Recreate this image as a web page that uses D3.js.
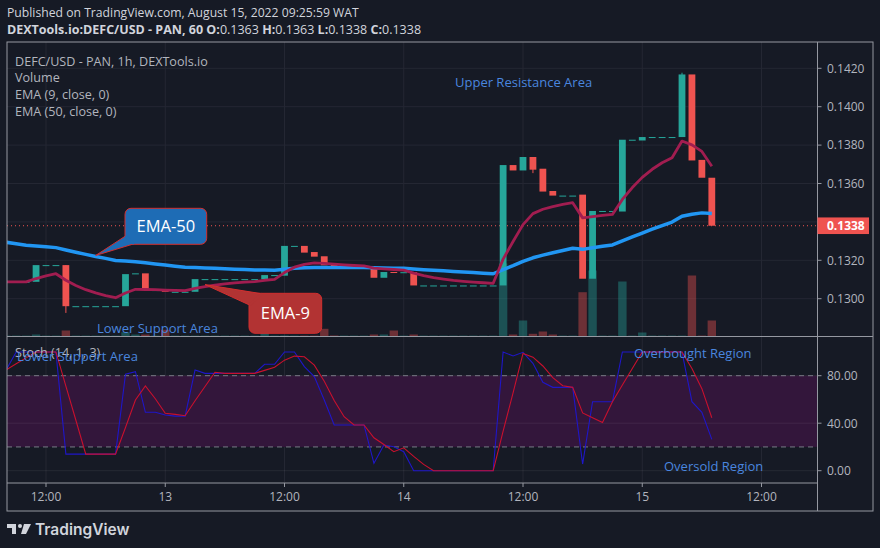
<!DOCTYPE html>
<html>
<head>
<meta charset="utf-8">
<script src="https://cdn.jsdelivr.net/npm/d3@7"></script>
<style>
  html, body { margin: 0; padding: 0; background: #161a25; }
  svg { display: block; font-family: "Open Sans", "DejaVu Sans", sans-serif; }
</style>
</head>
<body>
<svg id="chart" width="880" height="548"></svg>
<script>
// hourly bars, first one is Aug 12 08:00
var firstBar = Date.UTC(2022, 7, 12, 8);

var opens = [
  0.13088, 0.13088, 0.13088, 0.13088, 0.13175, 0.13175, 0.13175, 0.12961, 0.12961, 0.12961,
  0.12961, 0.12961, 0.12961, 0.13128, 0.13132, 0.13045, 0.13045, 0.13036, 0.13036, 0.13036,
  0.13102, 0.13102, 0.13102, 0.13102, 0.13102, 0.13102, 0.13101, 0.13123, 0.13120, 0.13275,
  0.13275, 0.13243, 0.13221, 0.13177, 0.13163, 0.13163, 0.13163, 0.13163, 0.13109, 0.13139,
  0.13138, 0.13138, 0.13069, 0.13069, 0.13069, 0.13069, 0.13069, 0.13069, 0.13069, 0.13069,
  0.13069, 0.13696, 0.13668, 0.13738, 0.13677, 0.13561, 0.13537, 0.13537, 0.13542, 0.13104,
  0.13457, 0.13457, 0.13454, 0.13828, 0.13824, 0.13842, 0.13842, 0.13842, 0.13842, 0.14168,
  0.13723, 0.13630
];
var closes = [
  0.13088, 0.13088, 0.13088, 0.13175, 0.13175, 0.13175, 0.12961, 0.12961, 0.12961, 0.12961,
  0.12961, 0.12961, 0.13128, 0.13132, 0.13045, 0.13045, 0.13036, 0.13036, 0.13036, 0.13102,
  0.13102, 0.13102, 0.13102, 0.13102, 0.13102, 0.13102, 0.13123, 0.13123, 0.13275, 0.13275,
  0.13240, 0.13219, 0.13174, 0.13163, 0.13163, 0.13163, 0.13163, 0.13109, 0.13139, 0.13138,
  0.13138, 0.13069, 0.13069, 0.13069, 0.13069, 0.13069, 0.13069, 0.13069, 0.13069, 0.13069,
  0.13696, 0.13668, 0.13738, 0.13672, 0.13558, 0.13537, 0.13537, 0.13537, 0.13104, 0.13457,
  0.13457, 0.13457, 0.13828, 0.13828, 0.13842, 0.13842, 0.13842, 0.13842, 0.14168, 0.13720,
  0.13630, 0.13380
];
// bars that have wicks: [bar index, high, low]
var wicks = [[6, 0.13175, 0.12926], [33, 0.13184, 0.13163], [53, 0.13738, 0.13654], [68, 0.14177, 0.13842]];

var volumes = [
  0, 0, 0, 200, 0, 0, 600, 0, 0, 0,
  0, 0, 430, 200, 200, 0, 670, 0, 0, 0,
  0, 0, 0, 0, 0, 0, 670, 0, 100, 0,
  0, 0, 770, 100, 0, 0, 0, 200, 200, 600,
  0, 200, 0, 0, 0, 0, 0, 0, 0, 0,
  7300, 200, 1600, 270, 500, 200, 0, 0, 4430, 6600,
  0, 0, 5500, 0, 400, 0, 0, 0, 0, 6100,
  0, 1600
];

var ema9 = [
  0.13088, 0.13088, 0.13088, 0.13105, 0.13119, 0.13130, 0.13096, 0.13069, 0.13047, 0.13030,
  0.13016, 0.13005, 0.13030, 0.13049, 0.13048, 0.13047, 0.13045, 0.13043, 0.13042, 0.13054,
  0.13063, 0.13071, 0.13077, 0.13082, 0.13086, 0.13089, 0.13096, 0.13101, 0.13136, 0.13164,
  0.13179, 0.13187, 0.13184, 0.13180, 0.13176, 0.13173, 0.13171, 0.13159, 0.13155, 0.13152,
  0.13149, 0.13133, 0.13120, 0.13110, 0.13102, 0.13095, 0.13090, 0.13086, 0.13083, 0.13080,
  0.13206, 0.13298, 0.13386, 0.13443, 0.13466, 0.13480, 0.13491, 0.13500, 0.13421, 0.13428,
  0.13434, 0.13439, 0.13517, 0.13579, 0.13632, 0.13674, 0.13708, 0.13734, 0.13821, 0.13801,
  0.13767, 0.13690
];
var ema50 = [
  0.13294, 0.13286, 0.13278, 0.13274, 0.13270, 0.13266, 0.13254, 0.13242, 0.13231, 0.13220,
  0.13210, 0.13199, 0.13196, 0.13193, 0.13187, 0.13181, 0.13175, 0.13169, 0.13164, 0.13162,
  0.13160, 0.13158, 0.13156, 0.13154, 0.13152, 0.13150, 0.13149, 0.13148, 0.13153, 0.13158,
  0.13161, 0.13163, 0.13163, 0.13163, 0.13163, 0.13163, 0.13163, 0.13161, 0.13160, 0.13159,
  0.13158, 0.13155, 0.13151, 0.13148, 0.13145, 0.13142, 0.13139, 0.13136, 0.13133, 0.13130,
  0.13152, 0.13172, 0.13194, 0.13213, 0.13227, 0.13239, 0.13251, 0.13263, 0.13257, 0.13265,
  0.13273, 0.13280, 0.13301, 0.13322, 0.13342, 0.13362, 0.13381, 0.13399, 0.13429, 0.13440,
  0.13447, 0.13444
];

var stochK = [
  85, 100, 100, 100, 100, 100, 14, 14, 14, 14,
  14, 14, 81.2, 83.4, 49.2, 49.2, 46.9, 46, 46, 84.8,
  82, 82, 82, 82, 82, 82, 89.6, 89.6, 100, 100,
  87.6, 79.2, 59.5, 38.5, 38.5, 38.5, 38.5, 6.2, 21.6, 20.2,
  16, 0, 0, 0, 0, 0, 0, 0, 0, 0,
  100, 96.6, 99.7, 90.4, 74.4, 70.2, 70.2, 70.2, 5.6, 58.1,
  58.1, 58.1, 100, 100, 100, 100, 100, 100, 100, 58.1,
  49.2, 26.4
];
var stochD = [
  85, 90, 95, 100, 100, 100, 71.3, 42.7, 14, 14,
  14, 14, 36.4, 59.5, 71.3, 60.6, 48.4, 47.4, 46.3, 58.9,
  70.9, 82.9, 82, 82, 82, 82, 84.5, 87.1, 93.1, 96.5,
  95.9, 88.9, 75.4, 59.1, 45.5, 38.5, 38.5, 27.7, 22.1, 16,
  19.3, 12.1, 5.3, 0, 0, 0, 0, 0, 0, 0,
  33.3, 65.5, 98.8, 95.6, 88.2, 78.3, 71.6, 70.2, 48.7, 44.6,
  40.6, 58.1, 72.1, 86, 100, 100, 100, 100, 100, 86,
  69.1, 44.6
];

var priceTicks = [0.1300, 0.1320, 0.1340, 0.1360, 0.1380, 0.1400, 0.1420];
var priceLabelTicks = [0.1300, 0.1320, 0.1360, 0.1380, 0.1400, 0.1420];
var stochTicks = [0, 40, 80];
var timeTicks = [
  Date.UTC(2022, 7, 12, 12), Date.UTC(2022, 7, 13), Date.UTC(2022, 7, 13, 12),
  Date.UTC(2022, 7, 14), Date.UTC(2022, 7, 14, 12), Date.UTC(2022, 7, 15), Date.UTC(2022, 7, 15, 12)
];
var timeLabels = ["12:00", "13", "12:00", "14", "12:00", "15", "12:00"];
var lastPrice = 0.1338;

var bars = opens.map(function(o, i) {
  var c = closes[i];
  var b = {t: new Date(firstBar + i * 3600000), o: o, c: c,
           h: Math.max(o, c), l: Math.min(o, c), v: volumes[i],
           e9: ema9[i], e50: ema50[i], k: stochK[i], d: stochD[i]};
  return b;
});
wicks.forEach(function(w) { bars[w[0]].h = w[1]; bars[w[0]].l = w[2]; });

var L = 7, R = 817.5, FR = 873, T = 42, MB = 336.5, SB = 483, B = 511;
var up = "#26a69a", down = "#ef5350", grid = "#242733", axisTxt = "#b2b5be", frame = "#9598a1";

var x = d3.scaleUtc()
  .domain([new Date(timeTicks[0]), new Date(timeTicks[6])])
  .range([46, 761.5]);
var y = d3.scaleLinear().domain([0.1300, 0.1420]).range([298.7, 68.3]);
var ys = d3.scaleLinear().domain([0, 100]).range([470.7, 351.95]);
var yv = d3.scaleLinear().domain([0, 7300]).range([MB, 263.5]);

var svg = d3.select("#chart");
svg.append("rect").attr("width", 880).attr("height", 548).attr("fill", "#161a25");

var defs = svg.append("defs");
defs.append("clipPath").attr("id", "mainClip").append("rect")
  .attr("x", L).attr("y", T).attr("width", R - L).attr("height", MB - T);
defs.append("clipPath").attr("id", "stochClip").append("rect")
  .attr("x", L).attr("y", MB).attr("width", R - L).attr("height", SB - MB);

// header
var head = svg.append("g").attr("fill", "#d1d4dc");
head.append("text").attr("x", 7).attr("y", 17).attr("font-size", 12.2)
  .text("Published on TradingView.com, August 15, 2022 09:25:59 WAT");
var h2 = head.append("text").attr("x", 7).attr("y", 34).attr("font-size", 12.5);
h2.append("tspan").attr("font-weight", "bold").text("DEXTools.io:DEFC/USD - PAN, 60 ");
[["O:", "0.1363 "], ["H:", "0.1363 "], ["L:", "0.1338 "], ["C:", "0.1338"]].forEach(function(p) {
  h2.append("tspan").attr("font-weight", "bold").text(p[0]);
  h2.append("tspan").text(p[1]);
});

// grid
var g = svg.append("g");
g.selectAll(".hg").data(priceTicks).enter().append("line")
  .attr("x1", L).attr("x2", R).attr("y1", d => y(d)).attr("y2", d => y(d))
  .attr("stroke", grid);
g.selectAll(".vg").data(timeTicks).enter().append("line")
  .attr("x1", d => x(d)).attr("x2", d => x(d)).attr("y1", T).attr("y2", SB)
  .attr("stroke", grid);

// main pane
var main = svg.append("g").attr("clip-path", "url(#mainClip)");
var bw = 6.8;
main.selectAll(".vol").data(bars).enter().append("rect")
  .attr("x", d => x(d.t) - 4.2).attr("width", 8.4)
  .attr("y", d => Math.min(yv(d.v), MB - 1))
  .attr("height", d => Math.max(MB - yv(d.v), 1))
  .attr("fill", d => d.c >= d.o ? up : down)
  .attr("opacity", d => d.v > 0 ? 0.4 : 0.3);

main.append("line").attr("x1", L).attr("x2", R)
  .attr("y1", y(lastPrice)).attr("y2", y(lastPrice))
  .attr("stroke", down).attr("stroke-dasharray", "1,3");

main.selectAll(".wick").data(bars.filter(d => d.h > Math.max(d.o, d.c) || d.l < Math.min(d.o, d.c)))
  .enter().append("line")
  .attr("x1", d => x(d.t)).attr("x2", d => x(d.t))
  .attr("y1", d => y(d.h)).attr("y2", d => y(d.l))
  .attr("stroke", d => d.c >= d.o ? up : down);
main.selectAll(".body").data(bars).enter().append("rect")
  .attr("x", d => x(d.t) - bw / 2).attr("width", bw)
  .attr("y", d => y(Math.max(d.o, d.c)))
  .attr("height", d => Math.max(y(Math.min(d.o, d.c)) - y(Math.max(d.o, d.c)), 1))
  .attr("fill", d => d.c >= d.o ? up : down);

var l9 = d3.line().x(d => x(d.t)).y(d => y(d.e9));
var l50 = d3.line().x(d => x(d.t)).y(d => y(d.e50));
main.append("path").attr("d", l50(bars)).attr("fill", "none")
  .attr("stroke", "#2196f3").attr("stroke-width", 3.5).attr("stroke-linejoin", "round");
main.append("path").attr("d", l9(bars)).attr("fill", "none")
  .attr("stroke", "#a11d50").attr("stroke-width", 2.8).attr("stroke-linejoin", "round");

// stochastic pane
var st = svg.append("g").attr("clip-path", "url(#stochClip)");
st.append("rect").attr("x", L).attr("width", R - L)
  .attr("y", ys(80)).attr("height", ys(20) - ys(80))
  .attr("fill", "#33163b");
st.selectAll(".sg").data(stochTicks).enter().append("line")
  .attr("x1", L).attr("x2", R).attr("y1", d => ys(d)).attr("y2", d => ys(d))
  .attr("stroke", "#ffffff").attr("stroke-opacity", 0.07);
st.selectAll(".band").data([80, 20]).enter().append("line")
  .attr("x1", L).attr("x2", R).attr("y1", d => ys(d)).attr("y2", d => ys(d))
  .attr("stroke", "#787b86").attr("stroke-dasharray", "5,4");
var lk = d3.line().x(d => x(d.t)).y(d => ys(d.k));
var ld = d3.line().x(d => x(d.t)).y(d => ys(d.d));
st.append("path").attr("d", lk(bars)).attr("fill", "none").attr("stroke", "#1f16c8").attr("stroke-width", 1.1);
st.append("path").attr("d", ld(bars)).attr("fill", "none").attr("stroke", "#c8102e").attr("stroke-width", 1.1);

// frame
var f = svg.append("g").attr("stroke", frame).attr("fill", "none");
f.append("rect").attr("x", L).attr("y", T).attr("width", FR - L).attr("height", B - T);
f.append("line").attr("x1", R).attr("x2", R).attr("y1", T).attr("y2", B);
f.append("line").attr("x1", L).attr("x2", FR).attr("y1", MB).attr("y2", MB);
f.append("line").attr("x1", L).attr("x2", R).attr("y1", SB).attr("y2", SB);

// price axis
var ax = svg.append("g").attr("font-size", 12).attr("fill", axisTxt);
ax.selectAll(".pt").data(priceLabelTicks).enter().append("line")
  .attr("x1", R).attr("x2", R + 4).attr("y1", d => y(d)).attr("y2", d => y(d)).attr("stroke", frame);
ax.selectAll(".pl").data(priceLabelTicks).enter().append("text")
  .attr("x", 827).attr("y", d => y(d) + 4.3).text(d3.format(".4f"));
ax.append("rect").attr("x", R).attr("y", y(lastPrice) - 8.3).attr("width", 51.5).attr("height", 16.6)
  .attr("fill", down);
ax.append("text").attr("x", 827).attr("y", y(lastPrice) + 4.3).attr("fill", "#ffffff")
  .attr("font-weight", "bold").text(d3.format(".4f")(lastPrice));
ax.selectAll(".st").data(stochTicks).enter().append("line")
  .attr("x1", R).attr("x2", R + 4).attr("y1", d => ys(d)).attr("y2", d => ys(d)).attr("stroke", frame);
ax.selectAll(".sl").data(stochTicks).enter().append("text")
  .attr("x", 827).attr("y", d => ys(d) + 4.3).text(d3.format(".2f"));

// time axis
ax.selectAll(".tt").data(timeTicks).enter().append("line")
  .attr("x1", d => x(d)).attr("x2", d => x(d)).attr("y1", SB).attr("y2", SB + 4).attr("stroke", frame);
ax.selectAll(".tl").data(timeTicks).enter().append("text")
  .attr("x", d => x(d)).attr("y", 500.5).attr("text-anchor", "middle")
  .text((d, i) => timeLabels[i]);

// legends
var lg = svg.append("g").attr("font-size", 12.6).attr("fill", axisTxt);
["DEFC/USD - PAN, 1h, DEXTools.io", "Volume", "EMA (9, close, 0)", "EMA (50, close, 0)"].forEach(function(s, i) {
  lg.append("text").attr("x", 15).attr("y", 65.5 + i * 16.7).text(s);
});
lg.append("text").attr("x", 15).attr("y", 356.5).text("Stoch (14, 1, 3)");

// text annotations
var an = svg.append("g").attr("font-size", 13).attr("fill", "#4a86df");
an.append("text").attr("x", 455).attr("y", 86.5).text("Upper Resistance Area");
an.append("text").attr("x", 97).attr("y", 332.5).text("Lower Support Area");
an.append("text").attr("x", 17).attr("y", 360.5).text("Lower Support Area");
an.append("text").attr("x", 634).attr("y", 357.5).text("Overbought Region");
an.append("text").attr("x", 664).attr("y", 470.5).text("Oversold Region");

// callouts
function callout(tip, box, p1, p2, fill, label) {
  var c = svg.append("g");
  c.append("rect").attr("x", box[0]).attr("y", box[1]).attr("width", box[2]).attr("height", box[3])
    .attr("rx", 6).attr("fill", fill).attr("stroke", "#d32f2f").attr("stroke-width", 1);
  c.append("path").attr("d", "M" + p1 + "L" + tip + "L" + p2)
    .attr("fill", fill).attr("stroke", "#d32f2f").attr("stroke-width", 1);
  c.append("path").attr("d", "M" + p1 + "L" + p2).attr("stroke", fill).attr("stroke-width", 2.5);
  c.append("text").attr("x", box[0] + box[2] / 2).attr("y", box[1] + box[3] / 2 + 6)
    .attr("text-anchor", "middle").attr("font-size", 16.5).attr("fill", "#ffffff").text(label);
}
var tip50 = [x(bars[9].t), y(bars[9].e50) - 1];
callout(tip50, [125, 208.3, 81.7, 36], [125.5, 236], [134, 243.8], "#1e6cb5", "EMA-50");
var tip9 = [x(bars[20].t), y(bars[20].e9) - 2];
callout(tip9, [249, 293.3, 72.7, 40], [262, 293.8], [249.5, 305], "#b23333", "EMA-9");

// logo
var lo = svg.append("g").attr("fill", "#d1d4dc");
lo.append("path").attr("d", "M7,524h9v10h-4v-6h-5z");
lo.append("circle").attr("cx", 20).attr("cy", 526).attr("r", 2);
lo.append("path").attr("d", "M24,524h7l-5,10h-5z");
lo.append("text").attr("x", 35).attr("y", 534.5).attr("font-size", 15.5).attr("font-weight", 600)
  .attr("font-family", "Inter, 'Open Sans', sans-serif").text("TradingView");
</script>
</body>
</html>
